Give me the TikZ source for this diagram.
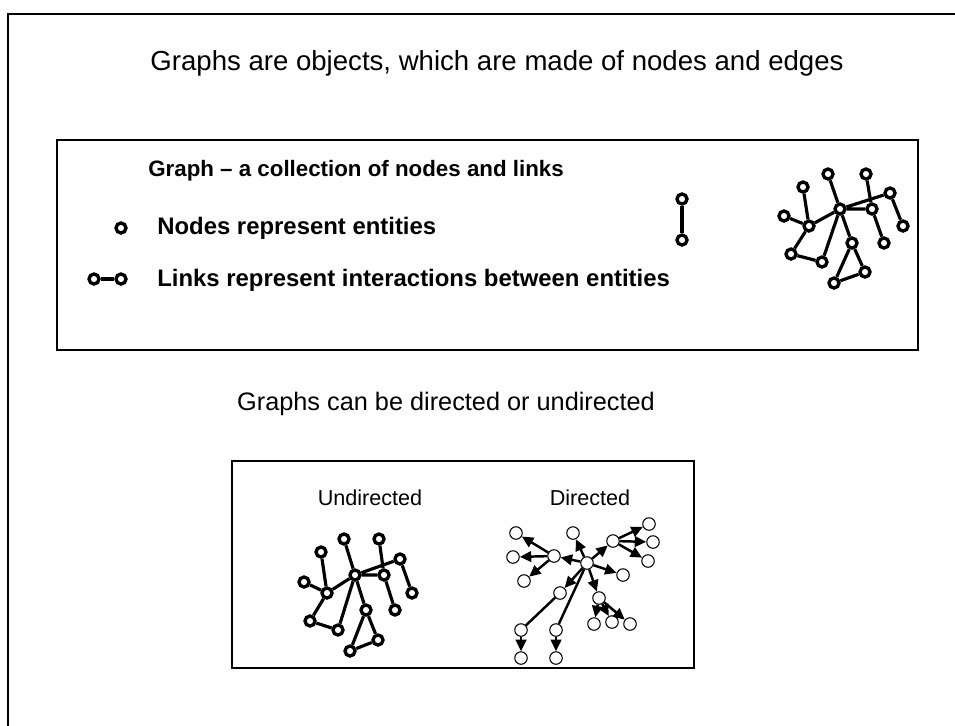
\documentclass[tikz,border=0pt]{standalone}
\usepackage{fontspec}
\setmainfont{Liberation Sans}
\usetikzlibrary{arrows.meta, positioning}

\begin{document}
\begin{tikzpicture}[x=0.02cm, y=-0.02cm,
    box/.style={draw, line width=0.8pt},
    bignode/.style={circle, draw, fill=white, line width=1.9pt, minimum size=0.2cm, inner sep=0pt},
    smallnode/.style={circle, draw, fill=white, line width=0.6pt, minimum size=0.25cm, inner sep=0pt},
    link/.style={line width=1.8pt},
    arc/.style={line width=1.4pt, -{Triangle[length=2.3mm, width=2.1mm]}},
    legend/.style={anchor=west, inner sep=0pt, font=\fontsize{13.6}{16}\selectfont\bfseries}]
    \useasboundingbox (0,0) rectangle (955,725);
    % Frame
    \draw[line width=1.5pt] (960,14) -- (8,14) -- (8,730);

    % Titles
    \node (title) at (497,63) {\fontsize{15.7}{19}\selectfont Graphs are objects, which are made of nodes and edges};
    \node (subtitle) at (446,404) {\fontsize{14.4}{17}\selectfont Graphs can be directed or undirected};

    % Boxes
    \draw[box] (57,140) rectangle (918,350);
    \draw[box] (232,461) rectangle (694,668);

    % Legend
    \node[legend, font=\fontsize{12.7}{15}\selectfont\bfseries] (head) at (148,171) {Graph -- a collection of nodes and links};
    \node[bignode] (n0) at (121,228) {};
    \node[legend] (nodetxt) at (157,228) {Nodes represent entities};
    \node[bignode] (l1) at (94,279) {};
    \node[bignode] (l2) at (121,279) {};
    \draw[link] (l1) -- (l2);
    \node[legend] (linktxt) at (157,280) {Links represent interactions between entities};
    \node[bignode] (v1) at (682,199) {};
    \node[bignode] (v2) at (682,240) {};
    \draw[link] (v1) -- (v2);

    % Graph, top
    \node[bignode] (a) at (803,187) {};
    \node[bignode] (b) at (828,174) {};
    \node[bignode] (c) at (866,174) {};
    \node[bignode] (d) at (890,193) {};
    \node[bignode] (e) at (840,209) {};
    \node[bignode] (f) at (872,209) {};
    \node[bignode] (g) at (784,216) {};
    \node[bignode] (h) at (809,226) {};
    \node[bignode] (i) at (903,226) {};
    \node[bignode] (j) at (852,243) {};
    \node[bignode] (k) at (884,243) {};
    \node[bignode] (l) at (791,254) {};
    \node[bignode] (m) at (822,262) {};
    \node[bignode] (n) at (865,272) {};
    \node[bignode] (o) at (834,283) {};
    \draw[link] (a) -- (h) (g) -- (h) (h) -- (e) (h) -- (l) (l) -- (m) (m) -- (e)
        (b) -- (e) (e) -- (f) (e) -- (d) (c) -- (f) (d) -- (i) (f) -- (k)
        (e) -- (j) (j) -- (o) (j) -- (n) (n) -- (o);

    % Undirected
    \node (undir) at (370,498) {\fontsize{12.3}{15}\selectfont Undirected};
    \node[bignode] (ua) at (321,552) {};
    \node[bignode] (ub) at (344,539) {};
    \node[bignode] (uc) at (379,539) {};
    \node[bignode] (ud) at (400,559) {};
    \node[bignode] (ue) at (355,575) {};
    \node[bignode] (uf) at (384,575) {};
    \node[bignode] (ug) at (304,582) {};
    \node[bignode] (uh) at (327,593) {};
    \node[bignode] (ui) at (412,593) {};
    \node[bignode] (uj) at (366,610) {};
    \node[bignode] (uk) at (395,610) {};
    \node[bignode] (ul) at (310,621) {};
    \node[bignode] (um) at (338,630) {};
    \node[bignode] (un) at (378,640) {};
    \node[bignode] (uo) at (350,651) {};
    \draw[link] (ua) -- (uh) (ug) -- (uh) (uh) -- (ue) (uh) -- (ul) (ul) -- (um) (um) -- (ue)
        (ub) -- (ue) (ue) -- (uf) (ue) -- (ud) (uc) -- (uf) (ud) -- (ui) (uf) -- (uk)
        (ue) -- (uj) (uj) -- (uo) (uj) -- (un) (un) -- (uo);

    % Directed
    \node (dir) at (590,498) {\fontsize{12.3}{15}\selectfont Directed};
    \node[smallnode] (d1) at (516,533) {};
    \node[smallnode] (d2) at (573,533) {};
    \node[smallnode] (d3) at (649,524) {};
    \node[smallnode] (d4) at (613,541) {};
    \node[smallnode] (d5) at (653,542) {};
    \node[smallnode] (d6) at (513,557) {};
    \node[smallnode] (d7) at (554,556) {};
    \node[smallnode] (d8) at (587,563) {};
    \node[smallnode] (d9) at (648,561) {};
    \node[smallnode] (d10) at (623,575) {};
    \node[smallnode] (d11) at (524,581) {};
    \node[smallnode] (d12) at (560,593) {};
    \node[smallnode] (d13) at (599,598) {};
    \node[smallnode] (d14) at (521,630) {};
    \node[smallnode] (d15) at (556,630) {};
    \node[smallnode] (d16) at (521,658) {};
    \node[smallnode] (d17) at (556,658) {};
    \node[smallnode] (d18) at (594,624) {};
    \node[smallnode] (d19) at (612,622) {};
    \node[smallnode] (d20) at (630,624) {};
    \draw[arc] (d7) -- (d1);
    \draw[arc] (d7) -- (d6);
    \draw[arc] (d7) -- (d11);
    \draw[arc] (d8) -- (d7);
    \draw[arc] (d8) -- (d2);
    \draw[arc] (d8) -- (d4);
    \draw[arc] (d8) -- (d10);
    \draw[arc] (d8) -- (d12);
    \draw[arc] (d8) -- (d13);
    \draw[arc] (d4) -- (d3);
    \draw[arc] (d4) -- (d5);
    \draw[arc] (d4) -- (d9);
    \draw[line width=1.4pt] (d12) -- (d14) (d8) -- (d15);
    \draw[arc] (d14) -- (d16);
    \draw[arc] (d15) -- (d17);
    \draw[arc] (d13) -- (d18);
    \draw[arc] (d13) -- (d19);
    \draw[arc] (d13) -- (d20);
\end{tikzpicture}
\end{document}
